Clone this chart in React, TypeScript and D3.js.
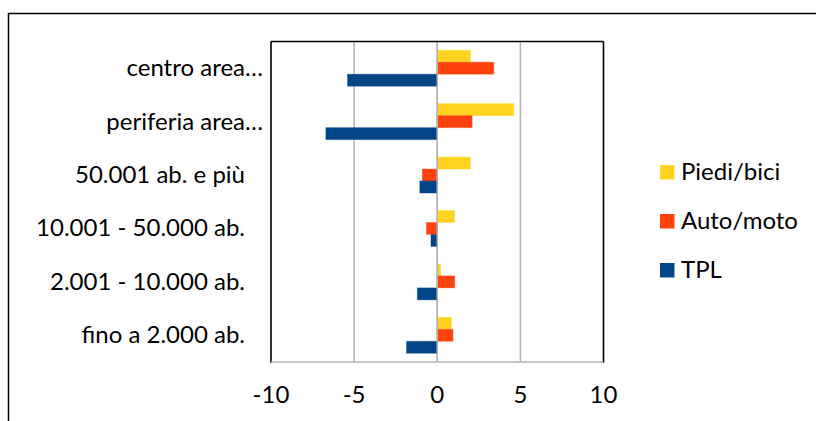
import React from "react";
import * as d3 from "d3";

const categories = [
  "centro area…",
  "periferia area…",
  "50.001 ab. e più",
  "10.001 - 50.000 ab.",
  "2.001 - 10.000 ab.",
  "fino a 2.000 ab.",
];
const seriesNames = ["Piedi/bici", "Auto/moto", "TPL"];
const seriesColors = ["#FFD320", "#FF420E", "#004586"];
const piediBici = [2.0, 4.6, 2.0, 1.05, 0.2, 0.85];
const autoMoto = [3.4, 2.1, -0.9, -0.65, 1.05, 0.95];
const tpl = [-5.4, -6.7, -1.05, -0.38, -1.2, -1.85];
const xTicks = [-10, -5, 0, 5, 10];

const seriesValues = [piediBici, autoMoto, tpl];

const W = 816;
const H = 421;
const FONT = "Lato, 'Open Sans', sans-serif";
const FS = 24;

export default function App() {
  const left = 271;
  const right = 603.5;
  const top = 41.5;
  const bottom = 362;
  const x = d3.scaleLinear().domain([-10, 10]).range([left, right]);
  const y0 = d3
    .scaleBand<string>()
    .domain(categories)
    .range([top, bottom])
    .paddingInner(0.326)
    .paddingOuter(0.163);
  const y1 = d3
    .scaleBand<string>()
    .domain(seriesNames)
    .range([0, y0.bandwidth()]);

  return (
    <svg
      width={W}
      height={H}
      style={{ position: "absolute", left: 0, top: 0, background: "#fff" }}
    >
      <rect x={0} y={0} width={W} height={H} fill="#fff" />
      {/* outer chart frame */}
      <rect
        x={8.5}
        y={13.5}
        width={W + 20}
        height={H + 20}
        fill="none"
        stroke="#000"
        strokeWidth={1.5}
      />
      {/* gridlines */}
      {xTicks.map((t) => (
        <line
          key={"g" + t}
          x1={x(t)}
          x2={x(t)}
          y1={top}
          y2={bottom}
          stroke="#b3b3b3"
          strokeWidth={1.5}
        />
      ))}
      {/* bars */}
      {categories.map((c, ci) =>
        seriesNames.map((s, si) => {
          const v = seriesValues[si][ci];
          const x0 = x(Math.min(0, v));
          const x1 = x(Math.max(0, v));
          return (
            <rect
              key={c + s}
              x={x0}
              y={(y0(c) as number) + (y1(s) as number)}
              width={x1 - x0}
              height={y1.bandwidth()}
              fill={seriesColors[si]}
              stroke={seriesColors[si]}
              strokeOpacity={0.35}
              strokeWidth={1}
            />
          );
        })
      )}
      {/* zero line over bars */}
      <line x1={x(0)} x2={x(0)} y1={top} y2={bottom} stroke="#b3b3b3" strokeWidth={1.5} />
      {/* plot frame */}
      <line x1={left} x2={right} y1={top} y2={top} stroke="#000" strokeWidth={1.5} />
      <line x1={left} x2={left} y1={top} y2={bottom + 1} stroke="#000" strokeWidth={1.5} />
      <line x1={right} x2={right} y1={top} y2={bottom + 1} stroke="#000" strokeWidth={1.5} />
      <line x1={left} x2={right} y1={bottom} y2={bottom} stroke="#b3b3b3" strokeWidth={1.5} />
      {/* x tick labels */}
      {xTicks.map((t) => (
        <text
          key={"t" + t}
          x={x(t)}
          y={403}
          textAnchor="middle"
          fontFamily={FONT}
          fontSize={FS}
          fill="#000"
        >
          {t}
        </text>
      ))}
      {/* category labels */}
      {categories.map((c) => (
        <text
          key={"c" + c}
          x={c.endsWith("…") ? 263 : 245}
          y={(y0(c) as number) + y0.bandwidth() / 2 + 8}
          textAnchor="end"
          fontFamily={FONT}
          fontSize={FS}
          fill="#000"
        >
          {c}
        </text>
      ))}
      {/* legend */}
      {seriesNames.map((s, i) => (
        <g key={"l" + s} transform={`translate(660, ${165 + i * 49})`}>
          <rect x={0} y={0} width={14.5} height={14.5} fill={seriesColors[i]} />
          <text x={21} y={15} fontFamily={FONT} fontSize={FS} fill="#000">
            {s}
          </text>
        </g>
      ))}
    </svg>
  );
}
